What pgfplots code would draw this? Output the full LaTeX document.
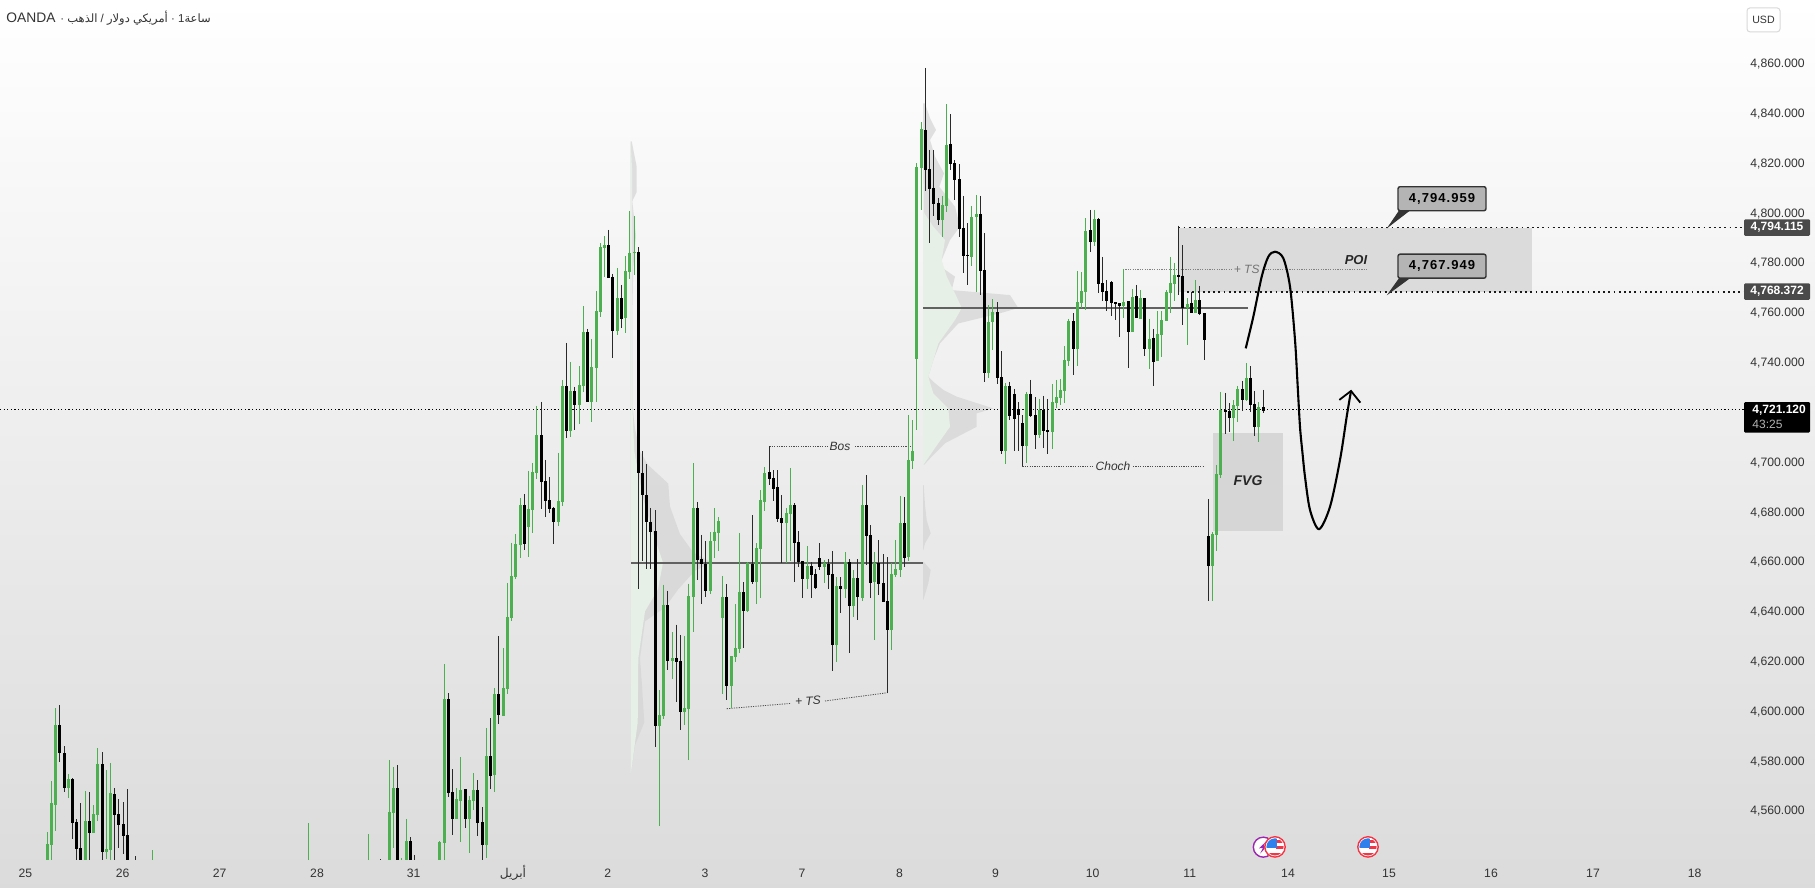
\documentclass[border=0pt]{standalone}
\usepackage{pgfplots}
\usepackage{pgfplotstable}
\pgfplotsset{compat=1.18}
\usepackage{fontspec}
\setmainfont{Liberation Sans}
\newfontfamily\arabicfont[Script=Arabic]{DejaVu Sans}
\newfontfamily\callfont[LetterSpace=8]{Liberation Sans}
\TeXXeTstate=1
\definecolor{cg}{HTML}{4CAF50}
\definecolor{cw}{HTML}{2A2A2A}
\definecolor{txt}{HTML}{333333}
\definecolor{boxc}{HTML}{DBDBDB}
\definecolor{fvgc}{HTML}{D6D6D6}
\definecolor{prof}{HTML}{D4D4D4}
\definecolor{profg}{HTML}{E6F0E6}
\definecolor{tagc}{HTML}{4A4A4A}
\definecolor{callc}{HTML}{B4B4B4}
\definecolor{usr}{HTML}{F23645}
\definecolor{usb}{HTML}{2F80ED}
\definecolor{purp}{HTML}{9C27B0}
% x = horizontal position (pixels of the reference), then high, body top, body bottom, low
\pgfplotstableread{
x h t b l
47.3 4551.3 4546.5 4540.1 4540.1
51.3 4571.7 4563 4546.1 4540.1
55.3 4601.1 4594.3 4562.2 4551.9
68.3 4574.6 4572.6 4569 4565
85.3 4567.8 4555.7 4540.1 4540.1
93.3 4562.2 4558.6 4550.9 4550.9
97.3 4585.1 4578.6 4558.2 4555.7
106.3 4576.2 4544.5 4543.3 4540.5
110.3 4579 4567 4544.1 4540.1
152.3 4544.1 4540.1 4540.1 4540.1
308.3 4554.9 4540.1 4540.1 4540.1
368.3 4550.5 4540.1 4540.1 4540.1
389.3 4580.2 4559.4 4540.1 4540.1
393.3 4577.4 4569 4559 4544.9
401.3 4540.9 4540.1 4540.1 4540.1
406.3 4556.5 4547.7 4540.1 4540.1
439.3 4547.7 4547.3 4540.1 4540.1
444.3 4618.8 4604.7 4546.9 4540.1
456.3 4569 4564.6 4556.5 4556.5
460.3 4581.4 4568.2 4563.8 4547.3
469.3 4565.8 4564.2 4556.5 4542.9
473.3 4575 4568.2 4563.8 4560.2
486.3 4593.1 4581.8 4546.1 4540.9
494.3 4609.2 4606.7 4574.2 4567.4
503.3 4625.2 4609.2 4597.9 4597.9
507.3 4651.4 4637.7 4608.8 4606.7
511.3 4667.5 4654.2 4637.3 4636.1
515.3 4671.1 4667 4653.8 4653
520.3 4685.5 4682.7 4666.6 4661.4
528.3 4696.4 4681.1 4673.9 4661.8
532.3 4699.6 4696 4680.7 4671.5
536.3 4722.5 4710.8 4695.6 4693.2
558.3 4703.6 4684.3 4675.9 4674.3
562.3 4732.9 4730.5 4683.9 4682.3
570.3 4740.1 4728.5 4712.4 4710
579.3 4738.5 4730.9 4722.9 4715.2
583.3 4762.6 4752.2 4730.5 4728.1
591.3 4749.4 4738.1 4724.1 4716
596.3 4768.7 4760.6 4737.7 4724.1
600.3 4787.9 4786.3 4760.2 4758.2
604.3 4790.7 4787.1 4785.9 4774.3
617.3 4777.9 4765.8 4752.6 4751
625.3 4782.7 4776.7 4757.8 4751.8
629.3 4800.8 4783.9 4776.3 4773.5
634.3 4798.8 4784.3 4783.9 4775.1
659.3 4608.3 4598.4 4593.9 4553.6
663.3 4650.7 4642.6 4598 4596.9
672.3 4631.7 4621.2 4620 4613
684.3 4630.1 4601.1 4599.7 4594.3
688.3 4651.1 4646 4600.8 4580.5
693.3 4699.4 4681.5 4645.6 4631.6
710.3 4671.8 4668.3 4648.3 4647
714.3 4681.3 4672 4668.1 4661.3
718.3 4677.8 4676.2 4671.6 4664.4
722.3 4654.1 4645.7 4637.3 4606.8
731.3 4622 4622 4610 4601.1
735.3 4642.9 4625.2 4621.6 4619.6
739.3 4671.4 4647.7 4624.8 4623.2
747.3 4659.8 4659.4 4640.1 4639.7
756.3 4667.4 4665.4 4651.7 4642.9
760.3 4688.7 4684.7 4665 4645.3
764.3 4697.9 4695.5 4683.9 4680.3
786.3 4681.5 4679.5 4675.4 4659.4
790.3 4697.5 4682.7 4679 4660.2
807.3 4666.2 4658.2 4653 4648.9
824.3 4660.6 4659.4 4657.8 4651.3
836.3 4653.7 4650.1 4626.4 4619.6
845.3 4663.8 4659.8 4648.9 4645.3
853.3 4656.6 4653.3 4642.1 4637.7
862.3 4690.7 4682.7 4645.3 4644.1
874.3 4663.8 4659.4 4651.7 4628.4
891.3 4659.4 4655 4632.5 4624.4
895.3 4668.6 4657 4654.6 4653.7
900.3 4686.3 4675.4 4656.6 4653.7
908.3 4718.8 4700.8 4661.8 4660.2
912.3 4716.8 4704.4 4700.4 4697.1
916.3 4819.9 4818.4 4741.3 4712.8
921.3 4836.5 4833.7 4818 4801.2
942.3 4806.8 4803.2 4797.1 4790.3
946.3 4843.7 4827.3 4802.8 4800.4
971.3 4802.8 4798.3 4782.3 4778.7
976.3 4807.2 4799.6 4798.3 4768.2
988.3 4763 4756.2 4735.7 4733.7
992.3 4765.4 4760.2 4756.2 4744.9
1005.3 4731.7 4730.5 4704.4 4699.2
1026.3 4728.1 4727.3 4706.4 4699.5
1039.3 4725.3 4720.8 4710.8 4709.6
1052.3 4731.3 4724 4712 4705.2
1056.3 4732.9 4726 4723.6 4721.6
1060.3 4733.3 4728.9 4725.7 4722.8
1064.3 4746.5 4740.9 4728.5 4723.6
1068.3 4757.4 4756.6 4740.5 4738.5
1077.3 4776.7 4764.2 4745.3 4738.5
1081.3 4776.3 4768.6 4763.8 4761.8
1085.3 4797.9 4792.7 4768.2 4761
1094.3 4801.2 4797.5 4788.3 4786.7
1123.3 4777.5 4764.2 4762.6 4757.8
1132.3 4769.5 4766.2 4752.2 4752.2
1140.3 4769 4765.8 4757.4 4757.4
1149.3 4757.4 4749.4 4745.4 4737.3
1157.3 4760.6 4751.4 4740.6 4740.6
1161.3 4760.6 4757 4751 4742.1
1166.3 4769 4768.3 4756.6 4756.6
1170.3 4782.3 4771.9 4767.9 4759.8
1174.3 4779.9 4775.1 4771.5 4764.6
1187.3 4765.8 4763.4 4761.8 4747
1195.3 4773.1 4765 4759.8 4759.8
1212.3 4671.8 4671 4658.2 4644.2
1216.3 4698.7 4695.1 4670.6 4664.2
1220.3 4728.1 4720.8 4694.7 4693.5
1233.3 4724.8 4722.8 4717.6 4708.4
1237.3 4730.5 4729.3 4722.4 4716
1246.3 4739.7 4733.7 4724.8 4724.4
1258.3 4724 4722 4714 4708
}\upbars
\pgfplotstableread{
x h t b l
59.3 4602.3 4594.3 4583.1 4579.4
64.3 4585.9 4583.1 4569 4567.4
72.3 4573 4572.6 4554.9 4548.5
76.3 4556.5 4555.3 4544.5 4540.1
80.3 4563 4544.9 4540.1 4540.1
89.3 4567.4 4555.7 4550.9 4540.1
102.3 4583.5 4578.6 4543.3 4540.1
114.3 4569 4566.6 4558.2 4540.1
118.3 4564.6 4558.6 4554.1 4544.9
123.3 4563.4 4554.5 4549.7 4542.5
127.3 4568.6 4550.1 4540.1 4540.1
135.3 4541.7 4540.1 4540.1 4540.1
380.3 4540.5 4540.1 4540.1 4540.1
397.3 4578.2 4569 4540.1 4540.1
410.3 4549.3 4547.7 4540.1 4540.1
414.3 4542.1 4540.1 4540.1 4540.1
448.3 4607.2 4604.7 4567 4565.4
452.3 4576.6 4567.4 4556.5 4550.1
465.3 4568.6 4568.6 4556.5 4552.9
477.3 4572.2 4568.2 4554.9 4549.7
482.3 4561.4 4555.3 4546.1 4540.1
490.3 4597.1 4581.8 4573.8 4568.6
498.3 4630 4606.7 4598.3 4594.7
524.3 4687.1 4682.7 4667 4664.6
541.3 4724.1 4710.8 4692 4681.1
545.3 4700.8 4692.3 4684.3 4677.9
549.3 4694 4684.7 4681.1 4679.5
553.3 4681.9 4681.5 4675.9 4667
566.3 4747.8 4730.5 4712.4 4709.6
574.3 4730.1 4728.5 4722.9 4712.8
587.3 4753.4 4752.2 4724.1 4724.1
608.3 4793.2 4787.1 4773.9 4773.9
612.3 4775.5 4774.3 4752.6 4741.7
621.3 4771.1 4765.8 4757.4 4753.8
638.3 4786.3 4784.3 4695.6 4648.9
642.3 4704.2 4695.6 4686.7 4660.3
646.3 4699.2 4686.7 4676 4657.2
650.3 4681.5 4676 4672 4657.2
655.3 4680.6 4672.3 4593.9 4585.6
667.3 4648.3 4642.6 4620.1 4616.6
676.3 4634.7 4621.2 4619.8 4603.4
680.3 4630.5 4620.1 4599.7 4592.5
697.3 4684 4681.5 4660.7 4652.6
701.3 4670.7 4661.1 4658.9 4642.8
705.3 4668.3 4659 4648.3 4645.6
726.3 4650.9 4645.7 4610 4604.3
743.3 4651.7 4647.7 4640.1 4625.2
752.3 4678.6 4659 4651.7 4651
769.3 4706.2 4695.9 4693.1 4690.7
773.3 4696.7 4693.5 4689.1 4684.3
777.3 4696.7 4689.9 4677 4675.8
781.3 4686.7 4677.4 4675.4 4659.4
794.3 4683.5 4682.7 4667.4 4651.7
798.3 4672.2 4667.8 4659.8 4657.8
802.3 4660.2 4660.2 4653 4645.3
811.3 4659.8 4658.2 4654.6 4645.3
815.3 4657 4655 4649.3 4648.9
819.3 4667.4 4661.4 4657.8 4656.6
828.3 4661 4659 4654.6 4648.9
832.3 4664.2 4655 4626.4 4616
840.3 4653.7 4650.1 4648.9 4639.3
849.3 4661 4659.8 4642.1 4623.2
857.3 4660.9 4653.3 4645.7 4636.5
866.3 4694.7 4682.7 4670.2 4658.6
870.3 4674.6 4670.6 4651.3 4645.3
878.3 4668.6 4659.4 4651 4646.5
883.3 4663 4651.3 4643.7 4643.7
887.3 4661.8 4644.1 4632.5 4607.2
904.3 4685.9 4675.4 4661.4 4657.8
925.3 4858.2 4833.3 4817.2 4808.8
929.3 4825.3 4817.6 4809.6 4787.9
933.3 4825.3 4810 4803.6 4798.7
938.3 4806 4804 4797.1 4795.1
950.3 4839.7 4827.7 4819.6 4817.2
954.3 4821.2 4820 4813.2 4805.2
959.3 4819.6 4813.6 4793.5 4790.3
963.3 4806.8 4793.9 4782.7 4775.9
967.3 4795.9 4783.1 4782.7 4771
980.3 4806.8 4799.6 4776.7 4767
984.3 4791.9 4777.1 4735.7 4732.1
997.3 4764.2 4760.2 4733.7 4731.3
1001.3 4744.5 4734.1 4704.4 4703.2
1009.3 4732.1 4730.5 4718.4 4716.8
1014.3 4729.3 4727.3 4717.2 4704.4
1018.3 4724 4721.2 4718.8 4704.4
1022.3 4718.8 4715.6 4706.4 4698.2
1030.3 4732.9 4727.3 4718.4 4718
1035.3 4726 4718.8 4710.8 4705.2
1043.3 4726.5 4720.8 4712.4 4705.6
1047.3 4725.3 4712.8 4712 4703.2
1073.3 4759.8 4756.6 4745.3 4734.9
1090.3 4801.2 4793.1 4788.3 4784.3
1098.3 4797.9 4797.5 4771.4 4767.8
1102.3 4782.3 4771.8 4768.2 4764.6
1106.3 4773 4768.6 4764.6 4760.6
1111.3 4772.6 4772.2 4763.8 4758.6
1115.3 4764.2 4764.2 4763.4 4757
1119.3 4763.8 4763.8 4762.6 4750.1
1128.3 4764.6 4764.6 4752.2 4737.7
1136.3 4771.1 4766.6 4757.8 4757.8
1144.3 4765.8 4765.8 4745.4 4742.5
1153.3 4753.4 4749.8 4740.1 4730.5
1178.3 4794.8 4775.1 4774.3 4767
1182.3 4787.1 4774.7 4761.8 4755
1191.3 4768.3 4763.8 4759.8 4759.8
1199.3 4770.7 4765 4759.4 4759
1204.3 4759.8 4759.8 4749 4741
1208.3 4685.1 4670.2 4658.2 4644.2
1225.3 4727.7 4720.8 4720 4711.2
1229.3 4723.6 4720.4 4717.6 4712
1242.3 4732.5 4729.3 4724.8 4720.4
1250.3 4738.5 4733.7 4722.8 4720
1254.3 4728.5 4723.2 4714 4710.4
1263.3 4728.9 4722 4720.4 4719.6
}\downbars
\newcommand{\usflag}[2]{%
  \begin{scope}[shift={(axis cs:#1,#2)}]
    \fill[white] (0pt,0pt) circle (5.4pt);
    \begin{scope}
      \clip (0pt,0pt) circle (4.3pt);
      \fill[white] (-5pt,-5pt) rectangle (5pt,5pt);
      \fill[usr] (-5pt,-4.4pt) rectangle (5pt,-2.8pt);
      \fill[usr] (0.3pt,-1.1pt) rectangle (5pt,0.5pt);
      \fill[usr] (0.3pt,2.1pt) rectangle (5pt,3.7pt);
      \fill[usb] (-5pt,-0.4pt) rectangle (0.8pt,5pt);
    \end{scope}
    \draw[usr,line width=0.7pt] (0pt,0pt) circle (5.1pt);
  \end{scope}}
\begin{document}
\begin{tikzpicture}
\begin{axis}[
  scale only axis, width=907.5pt, height=444pt,
  xmin=0, xmax=1815, ymin=4528.9, ymax=4885.5,
  axis background/.style={top color=white,bottom color=black!14},
  axis line style={draw=none}, tick style={draw=none}, major tick length=0pt,
  ytick={4560,4580,4600,4620,4640,4660,4680,4700,4740,4760,4780,4800,4820,4840,4860},
  yticklabel pos=right,
  yticklabel style={anchor=east,xshift=-5pt,yshift=-0.4pt,font=\fontsize{6.1}{7}\selectfont,text=txt,inner sep=0pt,
    /pgf/number format/.cd,fixed,fixed zerofill,precision=3,1000 sep={,},assume math mode=true},
  xtick={25.3,122.7,219.7,317,413.7,513,607.7,705,802,899.4,995.5,1092.7,1189.7,1288,1389,1491,1593,1694.6},
  xticklabels={25,26,27,28,31,{\arabicfont\beginR أبريل\endR},2,3,7,8,9,10,11,14,15,16,17,18},
  xticklabel style={anchor=center,yshift=7.5pt,font=\fontsize{6.1}{7}\selectfont,text=txt,inner sep=0pt},
]
% zones
\addplot[fill=boxc,draw=none,forget plot] coordinates {(1178.3,4794.115)(1532,4794.115)(1532,4768.372)(1178.3,4768.372)} -- cycle;
\addplot[fill=fvgc,draw=none,forget plot] coordinates {(1213,4711.6)(1283,4711.6)(1283,4672.2)(1213,4672.2)} -- cycle;
% volume profiles
\addplot[fill=prof,fill opacity=0.7,draw=none,forget plot] coordinates {(630.7,4828.7)(631.7,4828.7)(636.7,4818.5)(636.7,4808.4)(632.3,4804.7)(636,4790.9)(633.3,4778)(632.3,4759.5)(632.3,4741.1)(632.3,4722.7)(635,4713.4)(640,4704.2)(648.3,4698.7)(668.3,4691.3)(670,4682.1)(680,4671)(693.3,4663.6)(711.7,4659.6)(695,4656.3)(678.3,4648.9)(665,4641.5)(645,4636)(640,4621.2)(641.7,4612)(644.3,4595.4)(635,4586.2)(631,4575.1)(630.7,4575.1)} -- cycle;
\addplot[fill=profg,draw=none,forget plot] coordinates {(630.7,4828.7)(632,4818)(632.3,4722.7)(634.3,4704.2)(643.3,4685)(653.3,4671)(663,4659.6)(658,4648.9)(645,4640)(638.3,4621.2)(637.7,4595.4)(631,4575.1)(630.7,4575.1)} -- cycle;
\addplot[fill=prof,fill opacity=0.7,draw=none,forget plot] coordinates {(923,4844)(925,4844)(930,4838)(936,4833.3)(930,4829.3)(935,4822.6)(944,4815.9)(939.3,4810.5)(955,4802.5)(960,4794.5)(950,4789.1)(941.7,4781.1)(940.7,4778.4)(955,4774.4)(951.7,4769)(1010,4767)(1018.3,4761.8)(1000,4759.7)(958.3,4755.6)(940,4747.6)(933.3,4740.9)(928.3,4734.2)(933.3,4732.2)(943.3,4728.9)(956.7,4726.2)(993.3,4721.5)(976.7,4719.5)(976.7,4714.1)(945,4707.5)(931.7,4702.1)(924,4698.8)(923,4698.8)} -- cycle;
\addplot[fill=profg,draw=none,forget plot] coordinates {(923,4844)(924,4800)(933.3,4794.5)(945,4789.1)(941.7,4781.1)(946.7,4774.4)(955,4767.7)(961.7,4761.8)(955,4757)(938.3,4747.6)(928.3,4734.2)(933.3,4727.5)(948.3,4721.5)(950,4714.1)(938.3,4707.5)(923.3,4698.8)(923,4698.8)} -- cycle;
\addplot[fill=prof,fill opacity=0.7,draw=none,forget plot] coordinates {(923,4690.7)(923.7,4690.7)(925,4682.7)(926.7,4676.6)(930.7,4671.3)(925,4667.3)(923.3,4664.6)(923,4664.6)} -- cycle;
\addplot[fill=prof,fill opacity=0.7,draw=none,forget plot] coordinates {(923,4659.9)(923.7,4659.9)(930.7,4656.6)(928.3,4651.2)(923.3,4644.5)(923,4644.5)} -- cycle;
% point of control lines
\addplot[draw=black!62,line width=1pt,forget plot] coordinates {(631,4659.4)(922.7,4659.4)};
\addplot[draw=black!62,line width=1pt,forget plot] coordinates {(923,4761.8)(1248,4761.8)};
% horizontal levels
\addplot[draw=black,line width=0.6pt,dash pattern=on 0.6pt off 1.2pt,forget plot] coordinates {(0,4721.12)(1744,4721.12)};
\addplot[draw=black!90,line width=0.9pt,dash pattern=on 0.9pt off 1.7pt,forget plot] coordinates {(1178.3,4794.115)(1744,4794.115)};
\addplot[draw=black!90,line width=0.9pt,dash pattern=on 0.9pt off 1.7pt,forget plot] coordinates {(1182,4768.372)(1744,4768.372)};
% annotation leaders
\addplot[draw=black!70,line width=0.4pt,dash pattern=on 0.6pt off 0.6pt,forget plot] coordinates {(769.3,4706.2)(827,4706.2)};
\addplot[draw=black!70,line width=0.4pt,dash pattern=on 0.6pt off 0.6pt,forget plot] coordinates {(855,4706.2)(911,4706.2)};
\addplot[draw=black!70,line width=0.4pt,dash pattern=on 0.6pt off 0.6pt,forget plot] coordinates {(726.7,4600.9)(790,4603)};
\addplot[draw=black!70,line width=0.4pt,dash pattern=on 0.6pt off 0.6pt,forget plot] coordinates {(825,4604)(887.3,4607.3)};
\addplot[draw=black!70,line width=0.4pt,dash pattern=on 0.6pt off 0.6pt,forget plot] coordinates {(1022.3,4698.4)(1092,4698.4)};
\addplot[draw=black!70,line width=0.4pt,dash pattern=on 0.6pt off 0.6pt,forget plot] coordinates {(1133,4698.4)(1203,4698.4)};
\addplot[draw=black!50,line width=0.4pt,dash pattern=on 0.6pt off 0.6pt,forget plot] coordinates {(1123,4777.4)(1232,4777.4)};
\addplot[draw=black!50,line width=0.4pt,dash pattern=on 0.6pt off 0.6pt,forget plot] coordinates {(1263,4777.4)(1367.7,4777.4)};
\addplot[draw=black!70,line width=0.5pt,forget plot] coordinates {(887.3,4607.3)(887.3,4632)};
\addplot[draw=cw,line width=0.5pt,forget plot] coordinates {(1178.3,4794.9)(1178.3,4767)};
% candles
\addplot[draw=none,mark=none,forget plot,error bars/.cd,y dir=minus,y explicit,error mark=none,error bar style={draw=cg,line width=0.5pt}]
  table[x=x,y=h,y error minus expr=\thisrow{h}-\thisrow{l}]{\upbars};
\addplot[draw=none,mark=none,forget plot,error bars/.cd,y dir=minus,y explicit,error mark=none,error bar style={draw=cw,line width=0.5pt}]
  table[x=x,y=h,y error minus expr=\thisrow{h}-\thisrow{l}]{\downbars};
\addplot[draw=none,mark=none,forget plot,error bars/.cd,y dir=minus,y explicit,error mark=none,error bar style={draw=cg,line width=1.5pt}]
  table[x=x,y=t,y error minus expr=\thisrow{t}-\thisrow{b}]{\upbars};
\addplot[draw=none,mark=none,forget plot,error bars/.cd,y dir=minus,y explicit,error mark=none,error bar style={draw=black,line width=1.5pt}]
  table[x=x,y=t,y error minus expr=\thisrow{t}-\thisrow{b}]{\downbars};
% hand-drawn path
\addplot[draw=black,line width=1.05pt,smooth,tension=0.5,forget plot] coordinates {(1245.7,4745.6)(1253.3,4758.3)(1261.7,4774.4)(1268.3,4782.4)(1275,4784.4)(1283.3,4781.8)(1290,4770.4)(1295,4749)(1297.6,4731)(1300,4714)(1302.5,4703.5)(1305,4694)(1310,4680.7)(1319,4673)(1330,4682)(1340,4700.8)(1346.7,4718.2)(1351,4728.5)};
\addplot[draw=black,line width=0.9pt,forget plot] coordinates {(1339.3,4724.9)(1351,4728.5)(1360.3,4723.8)};
% labels on the chart
\node[font=\fontsize{6}{7}\selectfont\itshape,text=black!80] at (axis cs:840,4706.2) {Bos};
\node[font=\fontsize{6}{7}\selectfont\itshape,text=black!80,rotate=2] at (axis cs:808,4604) {+ TS};
\node[font=\fontsize{6}{7}\selectfont\itshape,text=black!80] at (axis cs:1113,4698.4) {Choch};
\node[font=\fontsize{6}{7}\selectfont\itshape,text=black!55] at (axis cs:1246.7,4777.4) {+ TS};
\node[font=\fontsize{6.5}{7}\selectfont\bfseries\itshape,text=black!85] at (axis cs:1356,4781) {POI};
\node[font=\fontsize{7}{8}\selectfont\bfseries\itshape,text=black!85] at (axis cs:1248,4692.3) {FVG};
% callouts
\addplot[fill=black!80,draw=black!80,line width=0.5pt,forget plot] coordinates {(1389,4794.7)(1400,4801.2)(1410,4801.2)} -- cycle;
\addplot[fill=black!80,draw=black!80,line width=0.5pt,forget plot] coordinates {(1389,4767.8)(1400,4774)(1410,4774)} -- cycle;
\node[fill=callc,draw=black!80,line width=0.7pt,rounded corners=1pt,minimum width=44pt,minimum height=12pt,inner sep=0pt,font=\callfont\fontsize{6.5}{7}\selectfont\bfseries] at (axis cs:1442,4805.7) {4,794.959};
\node[fill=callc,draw=black!80,line width=0.7pt,rounded corners=1pt,minimum width=44pt,minimum height=12pt,inner sep=0pt,font=\callfont\fontsize{6.5}{7}\selectfont\bfseries] at (axis cs:1442,4778.6) {4,767.949};
% price tags
\node[fill=tagc,rounded corners=0.6pt,minimum width=33pt,minimum height=8.3pt,inner sep=0pt,text=white,font=\fontsize{6}{7}\selectfont\bfseries] at (axis cs:1777,4794.1) {4,794.115};
\node[fill=tagc,rounded corners=0.6pt,minimum width=33pt,minimum height=8.3pt,inner sep=0pt,text=white,font=\fontsize{6}{7}\selectfont\bfseries] at (axis cs:1777,4768.4) {4,768.372};
\node[fill=black,rounded corners=0.6pt,minimum width=33pt,minimum height=15.3pt,inner sep=0pt] at (axis cs:1777,4717.9) {};
\node[text=white,inner sep=0pt,anchor=west,font=\fontsize{6}{7}\selectfont\bfseries] at (axis cs:1752,4720.8) {4,721.120};
\node[text=black!30,inner sep=0pt,anchor=west,font=\fontsize{6}{7}\selectfont] at (axis cs:1752,4715.2) {43:25};
% header
\node[anchor=west,inner sep=0pt,text=txt,font=\fontsize{6.9}{8}\selectfont] at (axis cs:6,4878.3) {OANDA};
\node[anchor=west,inner sep=0pt,text=txt,font=\fontsize{5.75}{8}\selectfont] at (axis cs:60,4878.3) {\textperiodcentered\ {\arabicfont\beginR الذهب\endR} / {\arabicfont\beginR دولار\endR} {\arabicfont\beginR أمريكي\endR} \textperiodcentered\ 1{\arabicfont\beginR ساعة\endR}};
\node[draw=black!15,fill=white,line width=0.5pt,rounded corners=1.5pt,minimum width=16.5pt,minimum height=12pt,inner sep=0pt,text=txt,font=\fontsize{5.3}{7}\selectfont] at (axis cs:1763.5,4877.5) {USD};
% event icons
\begin{scope}[shift={(axis cs:1263.3,4545.3)}]
  \fill[white] (0pt,0pt) circle (5.2pt);
  \draw[purp,line width=0.7pt] (0pt,0pt) circle (5pt);
  \fill[purp] (1.6pt,3pt) -- (-2.2pt,-0.6pt) -- (-0.2pt,-0.4pt) -- (-1.6pt,-3.2pt) -- (2.2pt,0.8pt) -- (0.2pt,0.6pt) -- cycle;
\end{scope}
\usflag{1275}{4545.4}
\usflag{1368}{4545.4}
\end{axis}
\end{tikzpicture}
\end{document}
